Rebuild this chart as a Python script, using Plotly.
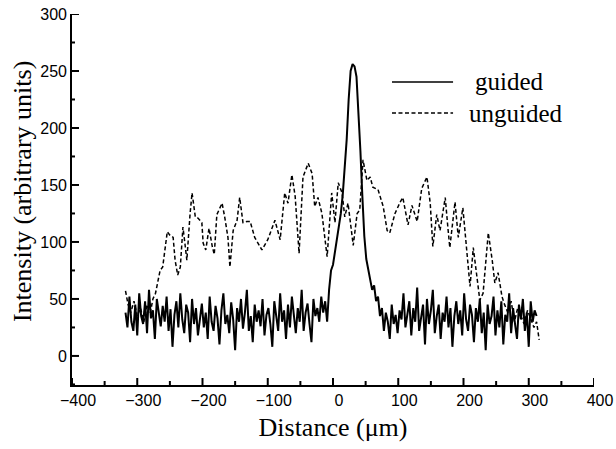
import plotly.graph_objects as go

# ---------------- data ----------------
# guided: sampled every 3 um from -318 to 312
guided_start = -318
guided_step = 3
guided_y = [
    38, 25, 52, 30, 22, 45, 18, 55, 35, 28,
    48, 20, 58, 33, 40, 15, 50, 38, 26, 44,
    30, 52, 22, 41, 8, 36, 48, 25, 55, 32,
    20, 45, 38, 12, 50, 28, 42, 18, 35, 46,
    25, 38, 15, 52, 30, 22, 44, 33, 10, 40,
    55, 28, 36, 20, 47, 32, 5, 42, 30, 50,
    24, 38, 58, 22, 35, 12, 45, 30, 40, 26,
    50, 18, 36, 42, 28, 8, 48, 33, 22, 55,
    30, 40, 15, 45, 25, 52, 35, 20, 42, 30,
    58, 22, 38, 46, 28, 12, 50, 35, 42, 30,
    52, 38, 48, 30, 58, 75, 80, 92, 100, 112,
    125, 142, 165, 190, 225, 250, 256, 254, 245, 215,
    180, 140, 105, 85, 75, 68, 58, 62, 48, 52,
    35, 42, 22, 38, 30, 15, 45, 28, 36, 20,
    40, 32, 55, 25, 38, 48, 18, 42, 30, 60,
    22, 36, 45, 10, 50, 28, 40, 58, 20, 35,
    45, 15, 38, 30, 52, 25, 42, 8, 35, 48,
    28, 40, 18, 55, 32, 22, 45, 36, 12, 42,
    30, 50, 20, 38, 5, 45, 28, 35, 52, 18,
    40, 25, 48, 10, 36, 30, 55, 20, 42, 28,
    15, 45, 32, 50, 22, 38, 8, 48, 30, 40,
    35,
]
guided_x = [guided_start + guided_step * i for i in range(len(guided_y))]

unguided_x = [
    -318, -314, -310, -305, -300, -295, -290, -285, -280, -276, -272,
    -270, -265, -261, -254, -250, -245, -242, -238, -234, -230, -227,
    -224, -219, -216, -211, -207, -201, -199, -195, -190, -185, -182,
    -178, -170, -166, -161, -158, -153, -147, -143, -138, -132, -127,
    -120, -109, -100, -89, -81, -74, -69, -63, -58, -52, -46, -38,
    -32, -28, -23, -17, -9, -2, 3, 8, 14, 18, 23, 31, 37, 41, 46, 52,
    57, 61, 69, 77, 83, 87, 95, 103, 107, 115, 121, 129, 136, 144,
    149, 153, 159, 164, 172, 176, 179, 187, 192, 199, 205, 210, 215,
    221, 225, 230, 238, 244, 248, 253, 259, 263, 268, 273, 278, 283,
    288, 293, 298, 303, 308, 312, 316,
]
unguided_y = [
    57, 45, 38, 48, 35, 42, 30, 45, 38, 50, 55,
    60, 75, 78, 109, 106, 104, 84, 71, 78, 113, 99,
    84, 125, 143, 122, 121, 117, 99, 93, 112, 96, 89,
    124, 134, 122, 104, 78, 110, 119, 139, 117, 118, 118,
    104, 93, 102, 119, 102, 143, 134, 159, 140, 90, 157, 169,
    160, 131, 139, 125, 87, 143, 117, 152, 143, 122, 134, 97, 125, 128, 172, 154,
    157, 148, 146, 131, 110, 108, 125, 135, 139, 115, 132, 118, 147, 157,
    134, 96, 124, 110, 139, 113, 95, 135, 104, 130, 90, 61, 95,
    67, 49, 55, 108, 84, 64, 73, 52, 45, 38, 48, 30, 42,
    35, 28, 40, 32, 25, 30, 14,
]

x_major_ticks = [-400, -300, -200, -100, 0, 100, 200, 300, 400]
x_minor_ticks = [-350, -250, -150, -50, 50, 150, 250, 350]
y_major_ticks = [0, 50, 100, 150, 200, 250, 300]
y_minor_ticks = [-25, 25, 75, 125, 175, 225, 275]

x_title = "Distance (μm)"
y_title = "Intensity (arbitrary units)"
legend_labels = ["guided", "unguided"]
x_range = [-400, 400]
y_range = [-25.5, 300]

# ---------------- figure ----------------
W, H = 616, 449
ML, MR, MT, MB = 72, 22, 14, 64
PW, PH = W - ML - MR, H - MT - MB

fig = go.Figure()
fig.add_trace(go.Scatter(x=unguided_x, y=unguided_y, mode="lines", name=legend_labels[1],
                         line=dict(color="black", width=1.5, dash="4px,2.5px")))
fig.add_trace(go.Scatter(x=guided_x, y=guided_y, mode="lines", name=legend_labels[0],
                         line=dict(color="black", width=2.0)))

sans = "Liberation Sans, Arial, sans-serif"
serif = "Liberation Serif, Times New Roman, serif"

fig.update_layout(
    width=W, height=H,
    margin=dict(l=ML, r=MR, t=MT, b=MB),
    paper_bgcolor="white", plot_bgcolor="white",
    showlegend=False,
    xaxis=dict(
        range=x_range, tickmode="array", tickvals=x_major_ticks,
        ticks="", showline=True, linewidth=1.6, linecolor="black",
        showgrid=False, zeroline=False,
        tickfont=dict(family=sans, size=16, color="black"),
        ticklabelshift=6,
        title=dict(text=x_title, font=dict(family=serif, size=26, color="black"), standoff=10),
        automargin=False,
    ),
    yaxis=dict(
        range=y_range, tickmode="array", tickvals=y_major_ticks,
        ticks="", showline=True, linewidth=1.6, linecolor="black",
        showgrid=False, zeroline=False,
        tickfont=dict(family=sans, size=16, color="black"),
        automargin=False,
    ),
)

# y-axis title (rotated), positioned like the original
fig.add_annotation(xref="paper", yref="paper", x=(22 - ML) / PW, y=0.52, text=y_title,
                   textangle=-90, showarrow=False, xanchor="center", yanchor="middle",
                   font=dict(family=serif, size=26, color="black"))

# tick marks pointing into the plot, placed through the axis scales
tick_style = dict(color="black", width=2)
for t in x_major_ticks:
    fig.add_shape(type="line", xref="x", yref="paper", x0=t, x1=t, y0=0, y1=7 / PH,
                  line=tick_style, layer="above")
for t in x_minor_ticks:
    fig.add_shape(type="line", xref="x", yref="paper", x0=t, x1=t, y0=0, y1=4 / PH,
                  line=tick_style, layer="above")
for t in y_major_ticks:
    fig.add_shape(type="line", xref="paper", yref="y", x0=0, x1=7 / PW, y0=t, y1=t,
                  line=tick_style, layer="above")
for t in y_minor_ticks:
    fig.add_shape(type="line", xref="paper", yref="y", x0=0, x1=3 / PW, y0=t, y1=t,
                  line=tick_style, layer="above")

# legend drawn as samples + text
leg_rows = [(0.817, "solid"), (0.733, "4px,2.5px")]
for (yy, dash), label in zip(leg_rows, legend_labels):
    fig.add_shape(type="line", xref="paper", yref="paper",
                  x0=0.613, x1=0.730, y0=yy, y1=yy,
                  line=dict(color="black", width=1.5, dash=dash))
fig.add_annotation(xref="paper", yref="paper", x=0.768, y=0.817, text=legend_labels[0],
                   showarrow=False, xanchor="left", yanchor="middle",
                   font=dict(family=serif, size=25, color="black"))
fig.add_annotation(xref="paper", yref="paper", x=0.757, y=0.733, text=legend_labels[1],
                   showarrow=False, xanchor="left", yanchor="middle",
                   font=dict(family=serif, size=25, color="black"))

fig.write_html("out.html")
